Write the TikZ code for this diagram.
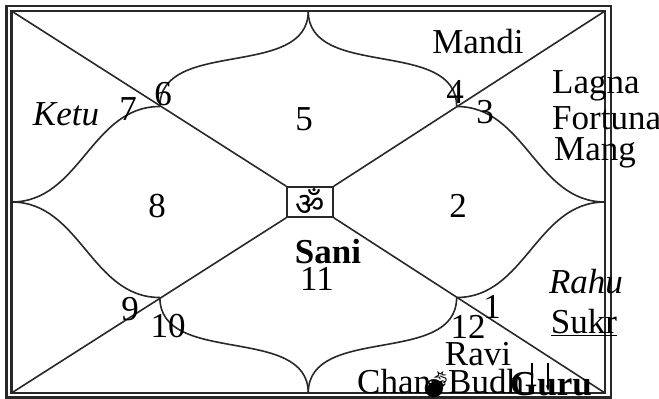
\documentclass[tikz,border=0pt]{standalone}
\usepackage{fontspec}
\setmainfont{Liberation Serif}
\newfontfamily\devfont[Script=Devanagari]{Noto Sans}
\newfontfamily\emojifont{Noto Emoji}
\usetikzlibrary{calc,arrows.meta}
\definecolor{frame}{RGB}{40,40,40}

\tikzset{
  house/.style={draw=frame, line width=1.6pt},
  lbl/.style={inner sep=0pt, font=\fontsize{35}{38}\selectfont},
}

\begin{document}
\begin{tikzpicture}[x=1pt, y=-1pt]
\useasboundingbox (0,0) rectangle (659,399);
% double frame
\draw[frame, line width=2.5pt] (6.5,6) rectangle (611,397.5);
\coordinate (tl) at (11.5,11);
\coordinate (tr) at (605,11);
\coordinate (bl) at (11.5,393);
\coordinate (br) at (605,393);
\draw[frame, line width=2.2pt] (tl) rectangle (br);

% om box in the middle
\node[house, minimum width=46pt, minimum height=30pt, inner sep=0pt] (om) at (310,202)
  {\devfont\fontsize{32}{32}\selectfont ॐ};
\draw[house] (tl) -- (om.north west);
\draw[house] (tr) -- (om.north east);
\draw[house] (bl) -- (om.south west);
\draw[house] (br) -- (om.south east);

% edge midpoints and inner corners
\coordinate (top) at ($(tl)!0.5!(tr)$);
\coordinate (bot) at ($(bl)!0.5!(br)$);
\coordinate (lft) at ($(tl)!0.5!(bl)$);
\coordinate (rgt) at ($(tr)!0.5!(br)$);
\coordinate (jtl) at ($(tl)!0.25!(br)$);
\coordinate (jbr) at ($(tl)!0.75!(br)$);
\coordinate (jtr) at ($(tr)!0.25!(bl)$);
\coordinate (jbl) at ($(tr)!0.75!(bl)$);

% petal curves
\draw[house] (top) to[out=-90, in=90] (jtl);
\draw[house] (top) to[out=-90, in=90] (jtr);
\draw[house] (bot) to[out=90, in=-90] (jbl);
\draw[house] (bot) to[out=90, in=-90] (jbr);
\draw[house] (lft) to[out=0, in=180] (jtl);
\draw[house] (lft) to[out=0, in=180] (jbl);
\draw[house] (rgt) to[out=180, in=0] (jtr);
\draw[house] (rgt) to[out=180, in=0] (jbr);

% house numbers
\node[lbl, anchor=base] (h1) at (492,318) {1};
\node[lbl, anchor=base] (h2) at (458,217) {2};
\node[lbl, anchor=base] (h3) at (485,123) {3};
\node[lbl, anchor=base] (h4) at (455,103) {4};
\node[lbl, anchor=base] (h5) at (304,130) {5};
\node[lbl, anchor=base] (h6) at (163,105) {6};
\node[lbl, anchor=base] (h7) at (128,120) {7};
\node[lbl, anchor=base] (h8) at (157,217) {8};
\node[lbl, anchor=base] (h9) at (130,320) {9};
\node[lbl, anchor=base] (h10) at (168,337) {10};
\node[lbl, anchor=base] (h11) at (317,290) {11};
\node[lbl, anchor=base] (h12) at (468,338) {12};

% planets
\node[lbl, anchor=base] (mandi) at (478,53) {Mandi};
\node[lbl, anchor=base west] (lagna) at (552,93) {Lagna};
\node[lbl, anchor=base west] (fortuna) at (552,129) {Fortuna};
\node[lbl, anchor=base west] (mang) at (554,160) {Mang};
\node[lbl, anchor=base, font=\fontsize{35}{38}\selectfont\itshape] (ketu) at (66,125) {Ketu};
\node[lbl, anchor=base, font=\fontsize{35}{38}\selectfont\bfseries] (sani) at (328,263) {Sani};
\node[lbl, anchor=base, font=\fontsize{35}{38}\selectfont\itshape] (rahu) at (586,293) {Rahu};
\node[lbl, anchor=base] (sukr) at (584,333) {\underline{Sukr}};
\node[lbl, anchor=base] (ravi) at (478,365) {Ravi};
\node[lbl, anchor=base west] (chan) at (357,393) {Chan};
\node[lbl, anchor=base west] (budh) at (448,393) {Budh};
\node[inner sep=0pt, font=\emojifont\fontsize{26}{26}\selectfont] (bomb) at (436,385) {💣};
\node[lbl, anchor=base west, font=\fontsize{35}{38}\selectfont\bfseries] (guru) at (510,395) {Guru};
\coordinate (g1) at (532,363);
\coordinate (g2) at (548,363);
\draw[line width=1.2pt, -{Stealth[length=6pt]}] (g1) -- ++(0,28);
\draw[line width=1.2pt, -{Stealth[length=6pt]}] (g2) -- ++(0,28);
\end{tikzpicture}
\end{document}
